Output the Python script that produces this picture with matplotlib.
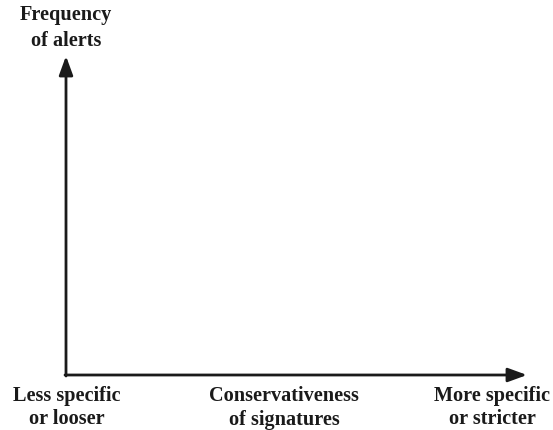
import matplotlib
matplotlib.use("Agg")
import matplotlib.pyplot as plt

# labels of the conceptual chart (no numeric data)
y_label = ["Frequency", "of alerts"]
x_label = ["Conservativeness", "of signatures"]
x_left_label = ["Less specific", "or looser"]
x_right_label = ["More specific", "or stricter"]

W, H = 553, 430
fig = plt.figure(figsize=(W / 100, H / 100), dpi=100)
ax = fig.add_axes([0, 0, 1, 1])
ax.set_xlim(0, W)
ax.set_ylim(H, 0)
ax.axis("off")

font = dict(family="Liberation Serif", weight="bold", fontsize=14.6,
            ha="center", va="baseline", color="#1a1a1a")

ox, oy = 66, 375
arrow = dict(arrowstyle="-|>,head_length=1.15,head_width=0.42", lw=2.0,
             color="#1a1a1a", shrinkA=0, shrinkB=0)
# y axis
ax.annotate("", xy=(ox, 56), xytext=(ox, oy + 1), arrowprops=arrow)
# x axis
ax.annotate("", xy=(527, oy), xytext=(ox - 1, oy), arrowprops=arrow)


def two_lines(lines, x, y0, gap):
    for i, s in enumerate(lines):
        ax.text(x, y0 + i * gap, s, **font)


two_lines(y_label, 66, 20, 26)
two_lines(x_left_label, 67, 401, 23.5)
two_lines(x_label, 284, 401, 23.5)
two_lines(x_right_label, 492, 401, 23.5)

fig.savefig("out.png", dpi=100)
